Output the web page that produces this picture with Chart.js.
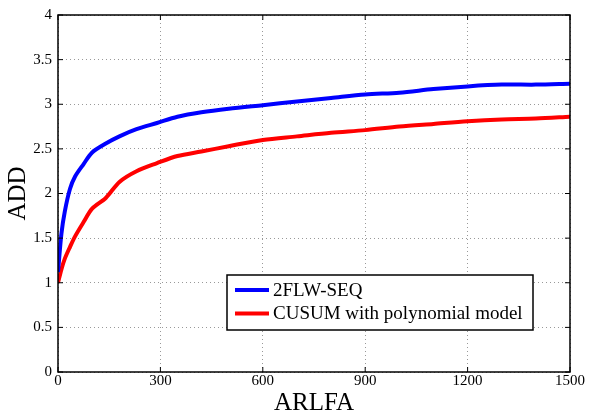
<!DOCTYPE html>
<html>
<head>
<meta charset="utf-8">
<script src="https://cdn.jsdelivr.net/npm/chart.js@4.4.1/dist/chart.umd.min.js"></script>
<style>
  html, body { margin: 0; padding: 0; background: #fff; }
  #wrap { width: 589px; height: 418px; }
</style>
</head>
<body>
<div id="wrap"><canvas id="myChart" width="589" height="418"></canvas></div>
<script>
// values
const arlfa = [0, 10, 20, 35, 50, 75, 100, 140, 180, 230, 290, 350, 420, 500, 600, 700, 800, 900, 1000, 1100, 1200, 1300, 1400, 1500];
const addSeq = [1.12, 1.55, 1.80, 2.05, 2.19, 2.33, 2.46, 2.56, 2.64, 2.72, 2.79, 2.86, 2.91, 2.95, 2.99, 3.03, 3.07, 3.11, 3.13, 3.17, 3.20, 3.22, 3.22, 3.23];
const addCusum = [1.00, 1.15, 1.27, 1.40, 1.52, 1.68, 1.83, 1.95, 2.13, 2.25, 2.34, 2.42, 2.47, 2.53, 2.60, 2.64, 2.68, 2.71, 2.75, 2.78, 2.81, 2.83, 2.84, 2.86];
const seriesNames = ['2FLW-SEQ', 'CUSUM with polynomial model'];
const xTicks = [0, 300, 600, 900, 1200, 1500];
const yTicks = [0, 0.5, 1, 1.5, 2, 2.5, 3, 3.5, 4];

const serif = "'Liberation Serif', 'DejaVu Serif', serif";

function pts(ys) {
    return arlfa.map(function(x, i) { return { x: x, y: ys[i] }; });
}

// black frame, inward ticks and the boxed legend (matlab style)
const frame = {
    id: 'frame',
    afterDatasetsDraw(chart) {
        const ctx = chart.ctx;
        const a = chart.chartArea;
        const xs = chart.scales.x, ys = chart.scales.y;
        ctx.save();
        ctx.strokeStyle = '#000';
        ctx.lineWidth = 1.5;
        ctx.strokeRect(a.left, a.top, a.right - a.left, a.bottom - a.top);
        ctx.lineWidth = 1;
        ctx.beginPath();
        for (const v of xTicks) {
            const px = xs.getPixelForValue(v);
            ctx.moveTo(px, a.bottom); ctx.lineTo(px, a.bottom - 5);
            ctx.moveTo(px, a.top); ctx.lineTo(px, a.top + 5);
        }
        for (const v of yTicks) {
            const py = ys.getPixelForValue(v);
            ctx.moveTo(a.left, py); ctx.lineTo(a.left + 5, py);
            ctx.moveTo(a.right, py); ctx.lineTo(a.right - 5, py);
        }
        ctx.stroke();

        // legend
        const lx = 227, ly = 275, lw = 306, lh = 55;
        ctx.fillStyle = '#fff';
        ctx.fillRect(lx, ly, lw, lh);
        ctx.lineWidth = 1.5;
        ctx.strokeRect(lx, ly, lw, lh);
        ctx.font = '19px ' + serif;
        ctx.textBaseline = 'middle';
        chart.data.datasets.forEach(function(ds, i) {
            const y = ly + 15 + i * 23.5;
            ctx.strokeStyle = ds.borderColor;
            ctx.lineWidth = 4;
            ctx.beginPath();
            ctx.moveTo(lx + 8, y); ctx.lineTo(lx + 42, y);
            ctx.stroke();
            ctx.fillStyle = '#000';
            ctx.fillText(ds.label, lx + 46, y + 1);
        });
        ctx.restore();
    }
};

const ctx = document.getElementById('myChart');
// eslint-disable-next-line no-unused-vars
const myChart = new Chart(ctx, {
    type: 'line',
    data: {
        datasets: [{
            label: seriesNames[0],
            data: pts(addSeq),
            borderColor: '#0000ff',
            borderWidth: 4,
            pointRadius: 0,
            tension: 0.3,
            fill: false
        }, {
            label: seriesNames[1],
            data: pts(addCusum),
            borderColor: '#ff0000',
            borderWidth: 4,
            pointRadius: 0,
            tension: 0.3,
            fill: false
        }]
    },
    options: {
        responsive: false,
        animation: false,
        layout: { padding: { top: 13, right: 19, left: 0, bottom: 0 } },
        plugins: {
            legend: { display: false },
            tooltip: { enabled: false }
        },
        scales: {
            x: {
                type: 'linear',
                min: 0,
                max: 1500,
                afterFit: function(s) { s.height = 46; },
                afterBuildTicks: function(s) { s.ticks = xTicks.map(function(v) { return { value: v }; }); },
                ticks: {
                    color: '#000',
                    font: { family: serif, size: 15 },
                    padding: 0,
                    maxRotation: 0,
                    callback: function(v) { return String(v); }
                },
                grid: { color: '#999', lineWidth: 1, drawTicks: false },
                border: { display: false, dash: [1, 3] },
                title: {
                    display: true,
                    text: 'ARLFA',
                    color: '#000',
                    font: { family: serif, size: 25 },
                    padding: { top: 0, bottom: 0 }
                }
            },
            y: {
                min: 0,
                max: 4,
                afterFit: function(s) { s.width = 58; },
                afterBuildTicks: function(s) { s.ticks = yTicks.map(function(v) { return { value: v }; }); },
                ticks: {
                    color: '#000',
                    font: { family: serif, size: 15 },
                    padding: 6,
                    callback: function(v) { return String(v); }
                },
                grid: { color: '#999', lineWidth: 1, drawTicks: false },
                border: { display: false, dash: [1, 3] },
                title: {
                    display: true,
                    text: 'ADD',
                    color: '#000',
                    font: { family: serif, size: 25 },
                    padding: { top: 3, bottom: 0 }
                }
            }
        }
    },
    plugins: [frame]
});
</script>
</body>
</html>
